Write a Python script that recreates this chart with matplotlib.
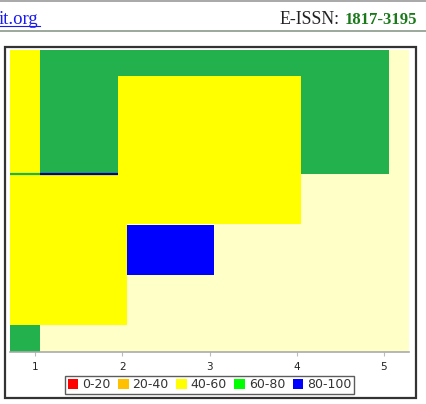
import matplotlib
matplotlib.use("Agg")
import matplotlib.pyplot as plt
from matplotlib.patches import Rectangle, Patch
from matplotlib.lines import Line2D

W, H = 426, 404
DPI = 100

# ---- data ----
legend_labels = ["0-20", "20-40", "40-60", "60-80", "80-100"]
legend_colors = ["#FF0000", "#FFC000", "#FFFF00", "#00FF00", "#0000FF"]
x_ticks = [1, 2, 3, 4, 5]

# rectangles: (x0, x1, y0, y1, colour) in data units, drawn in order
rect_x0 = [1.057, 0.713, 1.951, 0.713, 2.054, 0.713]
rect_x1 = [5.057, 1.057, 4.049, 2.054, 3.052, 1.057]
rect_y0 = [59.0, 58.6, 42.4, 8.9, 25.5, 0.0]
rect_y1 = [100.0, 100.0, 91.4, 58.6, 42.1, 8.9]
rect_c = ["#22B14C", "#FFFF00", "#FFFF00", "#FFFF00", "#0000FF", "#22B14C"]

# thin degenerate bands (x0, x1, y, colour)
line_x0 = [0.713, 1.057]
line_x1 = [1.057, 1.951]
line_y = [58.8, 58.8]
line_c = ["#22B14C", "#0000A0"]

bg_color = "#FFFFC8"

fig = plt.figure(figsize=(W / DPI, H / DPI), dpi=DPI)
fig.patch.set_facecolor("white")

def fx(px):
    return px / W

def fy(py):
    return 1 - py / H

# header
fig.add_artist(Line2D([0, 1], [fy(0.8), fy(0.8)], color="#999999", lw=1.2))
fig.add_artist(Line2D([0, 1], [fy(31), fy(31)], color="#8a9a8a", lw=1.2))
fig.text(fx(-1), fy(24), "it.org", color="#1a1aee", fontsize=13.5,
         family="Liberation Serif", ha="left", va="baseline")
fig.add_artist(Line2D([fx(0), fx(40)], [fy(26), fy(26)], color="#1a1aee", lw=0.8))
num = fig.text(fx(417), fy(24), "1817-3195", color="#1a7a1a", fontsize=12,
               family="Liberation Serif", weight="bold", ha="right", va="baseline")
fig.canvas.draw()
bb = num.get_window_extent()
fig.text((bb.x0 - 5) / W, fy(24), "E-ISSN:", color="#222222", fontsize=12.8,
         family="Liberation Serif", ha="right", va="baseline")

# outer box
fig.add_artist(Rectangle((fx(4.5), fy(398)), fx(411.5), fy(47) - fy(398),
                         transform=fig.transFigure, fill=False,
                         edgecolor="#333333", lw=1.6))

# axes
ax = fig.add_axes([fx(10), fy(352), fx(399), fy(50) - fy(352)])
ax.set_facecolor(bg_color)
ax.set_xlim(0.713, 5.287)
ax.set_ylim(0, 100)

for x0, x1, y0, y1, c in zip(rect_x0, rect_x1, rect_y0, rect_y1, rect_c):
    ax.add_patch(Rectangle((x0, y0), x1 - x0, y1 - y0, facecolor=c,
                           edgecolor="none", lw=0))
for x0, x1, y, c in zip(line_x0, line_x1, line_y, line_c):
    ax.plot([x0, x1], [y, y], color=c, lw=1.6, solid_capstyle="butt")

for s in ["top", "left", "right"]:
    ax.spines[s].set_visible(False)
ax.spines["bottom"].set_color("#aaaaaa")
ax.spines["bottom"].set_linewidth(1.2)
ax.set_yticks([])
ax.set_xticks(x_ticks)
ax.set_xticklabels([str(v) for v in x_ticks])
ax.tick_params(axis="x", length=3, width=0.8, color="#bbbbbb",
               labelsize=7.5, labelcolor="#222222", pad=4)

# legend
handles = [Patch(facecolor=c, edgecolor="none") for c in legend_colors]
leg = fig.legend(handles, legend_labels, loc="center",
                 bbox_to_anchor=(fx(209.5), fy(385)), ncol=5, fontsize=9,
                 frameon=True, fancybox=False, edgecolor="#333333",
                 handlelength=0.85, handleheight=0.85, handletextpad=0.3,
                 columnspacing=0.6, borderpad=0.2, borderaxespad=0)
leg.get_frame().set_linewidth(1.0)
for txt in leg.get_texts():
    txt.set_color("#333333")

fig.savefig("out.png", dpi=DPI)
